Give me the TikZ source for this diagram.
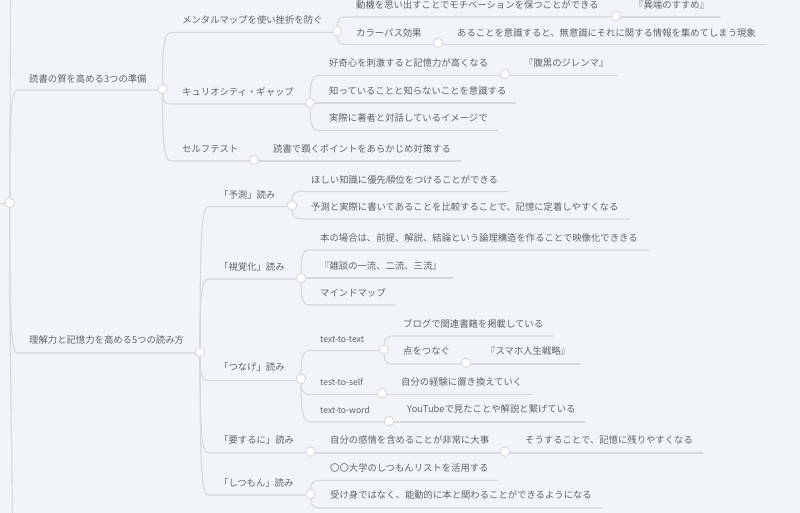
\documentclass[tikz,border=0pt]{standalone}
\usepackage{fontspec}
\setmainfont{Noto Sans CJK JP}
\usetikzlibrary{backgrounds,calc}
\definecolor{bgc}{HTML}{F1F5F9}
\definecolor{linec}{HTML}{D6DADD}
\definecolor{textc}{HTML}{606467}
\tikzset{
  conn/.style={draw=linec,line width=1.1pt,line cap=round},
  dot/.style={circle,draw=linec,fill=white,line width=0.9pt,minimum size=9.5pt,inner sep=0pt},
  lab/.style={anchor=base west,inner sep=0pt,text=textc,font=\fontsize{9.35}{11}\selectfont},
  small/.style={anchor=base west,inner sep=0pt,text=textc,font=\fontsize{8.6}{11}\selectfont}
}
% parent, knee x, y, target (node or coordinate)
\newcommand\branch[4]{\coordinate (kk) at (#2,#3);
  \draw[conn] (#1.center) .. controls ($(#1.center)!0.7!(#1.center |- kk)$) and ($(#1.center |- kk)!0.12!(kk)$) .. (kk) -- (#4 |- kk);}
\newcommand\tx[3]{\node[lab] at (#1,#2+3.9) {#3};}
\newcommand\txs[3]{\node[small] at (#1,#2+3.4) {#3};}
\begin{document}
\begin{tikzpicture}[x=1pt,y=-1pt]
\useasboundingbox (0,0) rectangle (800,513);
\clip (0,0) rectangle (800,513);
% dots
\node[dot] (root) at (9.7,202.7) {};
\node[dot] (a) at (162.5,89) {};
\node[dot] (b) at (200,352) {};
\node[dot] (a1) at (337,31) {};
\node[dot] (a2) at (310,103) {};
\node[dot] (a3) at (254,160) {};
\node[dot] (a11) at (616,16) {};
\node[dot] (a12) at (438,43) {};
\node[dot] (a21) at (505,74) {};
\node[dot] (b1) at (292,205.5) {};
\node[dot] (b2) at (301,278) {};
\node[dot] (b3) at (301,379) {};
\node[dot] (b4) at (310.5,451.5) {};
\node[dot] (b5) at (310.5,494) {};
\node[dot] (b31) at (384,349.7) {};
\node[dot] (b32) at (382,393.3) {};
\node[dot] (b33) at (389,421) {};
\node[dot] (b312) at (466,362.7) {};
\node[dot] (b41) at (505,451.5) {};
% free ends
\coordinate (top) at (10.5,0);
\coordinate (bot) at (12.5,513);
\coordinate (lft) at (0,204);
\coordinate (e111) at (720,17);
\coordinate (e121) at (766,44.5);
\coordinate (e211) at (618,75.5);
\coordinate (e22) at (516,103);
\coordinate (e23) at (497,130.5);
\coordinate (e31) at (461,161);
\coordinate (f11) at (508,191.5);
\coordinate (f12) at (629,219);
\coordinate (f21) at (649,250);
\coordinate (f22) at (453,278);
\coordinate (f23) at (395,305);
\coordinate (g1) at (553,336);
\coordinate (g2) at (580,364);
\coordinate (g3) at (532,394.5);
\coordinate (g4) at (585,422);
\coordinate (h1) at (703,453);
\coordinate (i1) at (498,480.5);
\coordinate (i2) at (602,508);
\begin{scope}[on background layer]
\fill[bgc] (0,0) rectangle (800,513);
\draw[conn] (lft) -- (root.center);
\draw[conn] (root.center) -- (top);
\draw[conn] (root.center) .. controls (9.5,300) and (11,420) .. (bot);
\branch{root}{17}{90}{a}
\branch{root}{17}{353}{b}
\branch{a}{171}{32.5}{a1}
\branch{a}{171}{104}{a2}
\branch{a}{171}{161}{a3}
\branch{a1}{346}{17}{a11}
\draw[conn] (a11.center |- e111) -- (e111);
\branch{a1}{346}{44.5}{a12}
\draw[conn] (a12.center |- e121) -- (e121);
\branch{a2}{319}{75.5}{a21}
\draw[conn] (a21.center |- e211) -- (e211);
\branch{a2}{319}{103}{e22}
\branch{a2}{319}{130.5}{e23}
\draw[conn] (a3.center |- e31) -- (e31);
\branch{b}{208}{206.5}{b1}
\branch{b}{208}{279}{b2}
\branch{b}{208}{380.5}{b3}
\branch{b}{208}{453}{b4}
\branch{b}{208}{495}{b5}
\branch{b1}{301}{191.5}{f11}
\branch{b1}{301}{219}{f12}
\branch{b2}{309}{250}{f21}
\branch{b2}{309}{278}{f22}
\branch{b2}{309}{305}{f23}
\branch{b3}{310}{350.5}{b31}
\branch{b3}{310}{394.5}{b32}
\draw[conn] (b32.center |- g3) -- (g3);
\branch{b3}{310}{422}{b33}
\draw[conn] (b33.center |- g4) -- (g4);
\branch{b31}{393}{336}{g1}
\branch{b31}{393}{364}{b312}
\draw[conn] (b312.center |- g2) -- (g2);
\draw[conn] (b4.center |- h1) -- (h1);
\branch{b5}{319}{480.5}{i1}
\branch{b5}{319}{508}{i2}
\end{scope}
% labels
\tx{29}{78.5}{読書の質を高める3つの準備}
\tx{29}{340}{理解力と記憶力を高める5つの読み方}
\tx{182}{20}{メンタルマップを使い挫折を防ぐ}
\tx{182}{92}{キュリオシティ・ギャップ}
\tx{182}{149}{セルフテスト}
\tx{356}{5}{動機を思い出すことでモチベーションを保つことができる}
\tx{634}{5}{『異端のすすめ』}
\tx{356}{32.5}{カラーパス効果}
\tx{457}{33}{あることを意識すると、無意識にそれに関する情報を集めてしまう現象}
\tx{329}{63}{好奇心を刺激すると記憶力が高くなる}
\tx{524}{63}{『腹黒のジレンマ』}
\tx{329}{91}{知っていることと知らないことを意識する}
\tx{329}{118}{実際に著者と対話しているイメージで}
\tx{273}{149}{読書で躓くポイントをあらかじめ対策する}
\tx{219}{194.5}{「予測」読み}
\tx{219}{267}{「視覚化」読み}
\tx{219}{367}{「つなげ」読み}
\tx{219}{440}{「要するに」読み}
\tx{219}{483}{「しつもん」読み}
\tx{311}{180}{ほしい知識に優先順位をつけることができる}
\tx{311}{207}{予測と実際に書いてあることを比較することで、記憶に定着しやすくなる}
\tx{320}{238}{本の場合は、前提、解説、結論という論理構造を作ることで映像化でききる}
\tx{320}{266}{『雑談の一流、二流、三流』}
\tx{320}{293}{マインドマップ}
\txs{320}{339}{text-to-text}
\txs{320}{382}{test-to-self}
\txs{320}{410}{text-to-word}
\tx{403}{324}{ブログで関連書籍を掲載している}
\tx{403}{351}{点をつなぐ}
\tx{486}{351}{『スマホ人生戦略』}
\tx{401}{382}{自分の経験に置き換えていく}
\tx{407}{409}{YouTubeで見たことや解説と繋げている}
\tx{330}{440}{自分の感情を含めることが非常に大事}
\tx{525}{440}{そうすることで、記憶に残りやすくなる}
\tx{330}{467.5}{〇〇大学のしつもんリストを活用する}
\tx{330}{495}{受け身ではなく、能動的に本と関わることができるようになる}
\end{tikzpicture}
\end{document}
